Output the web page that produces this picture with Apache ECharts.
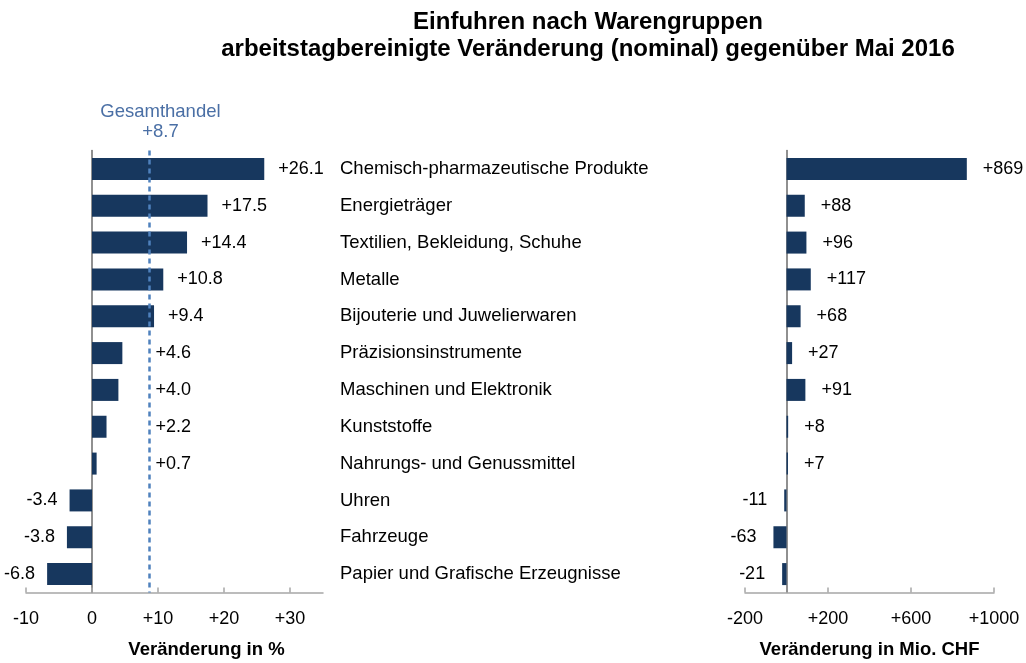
<!DOCTYPE html>
<html>
<head>
<meta charset="utf-8">
<script src="https://cdn.jsdelivr.net/npm/echarts@6/dist/echarts.min.js"></script>
<style>
  html, body { margin: 0; padding: 0; background: #ffffff; }
  #chart { width: 1026px; height: 663px; }
</style>
</head>
<body>
<div id="chart"></div>
<script>
// ---- data ----
const titleLines = ['Einfuhren nach Warengruppen', 'arbeitstagbereinigte Veränderung (nominal) gegenüber Mai 2016'];
const categories = [
  'Chemisch-pharmazeutische Produkte',
  'Energieträger',
  'Textilien, Bekleidung, Schuhe',
  'Metalle',
  'Bijouterie und Juwelierwaren',
  'Präzisionsinstrumente',
  'Maschinen und Elektronik',
  'Kunststoffe',
  'Nahrungs- und Genussmittel',
  'Uhren',
  'Fahrzeuge',
  'Papier und Grafische Erzeugnisse'
];
const pctValues = [26.1, 17.5, 14.4, 10.8, 9.4, 4.6, 4.0, 2.2, 0.7, -3.4, -3.8, -6.8];
const chfValues = [869, 88, 96, 117, 68, 27, 91, 8, 7, -11, -63, -21];
const totalPct = 8.7;
const totalLabel = 'Gesamthandel';
const pctTicks = [-10, 0, 10, 20, 30];
const chfTicks = [-200, 200, 600, 1000];
const pctAxisName = 'Veränderung in %';
const chfAxisName = 'Veränderung in Mio. CHF';

// ---- style / layout ----
const FONT = '"Liberation Sans", Arial, Helvetica, sans-serif';
const BAR = '#17375e';
const LEFT_GRID = { left: 26, top: 150.5, width: 297, height: 442 };
const RIGHT_GRID = { left: 745, top: 150.5, width: 249, height: 442 };
const PCT_MIN = -10, PCT_MAX = 35;
const CHF_MIN = -200, CHF_MAX = 1000;
const pctPx = LEFT_GRID.width / (PCT_MAX - PCT_MIN);
const totalLabelClearPx = (totalPct * pctPx) + 6; // keep small labels right of dashed line

function signed(v, d) {
  const s = v.toFixed(d);
  return v > 0 ? '+' + s : s;
}

const pctData = pctValues.map(v => {
  const pos = v >= 0 ? 'right' : 'left';
  const dist = v >= 0 ? Math.max(14, totalLabelClearPx - v * pctPx) : 12;
  return { value: v, label: { position: pos, distance: dist } };
});
const chfData = chfValues.map(v => ({
  value: v,
  label: { position: v >= 0 ? 'right' : 'left', distance: v >= 0 ? 16 : 17 }
}));

const chart = echarts.init(document.getElementById('chart'), null, { renderer: 'canvas' });

const valueAxisBase = {
  type: 'value',
  splitLine: { show: false },
  axisLine: { show: true, onZero: false, lineStyle: { color: '#a6a6a6', width: 1.5 } },
  axisTick: { show: true, inside: true, length: 5, lineStyle: { color: '#a6a6a6', width: 1.5 } },
  axisLabel: { color: '#000', fontFamily: FONT, fontSize: 18, margin: 18 },
  nameLocation: 'middle',
  nameGap: 48,
  nameTextStyle: { color: '#000', fontFamily: FONT, fontSize: 18.5, fontWeight: 'bold' }
};

chart.setOption({
  animation: false,
  backgroundColor: '#ffffff',
  title: {
    text: titleLines.join('\n'),
    left: 588,
    top: 9,
    padding: 0,
    textAlign: 'center',
    textStyle: { color: '#000', fontFamily: FONT, fontSize: 24, fontWeight: 'bold', lineHeight: 27 }
  },
  grid: [
    Object.assign({ containLabel: false, outerBoundsMode: 'none' }, LEFT_GRID),
    Object.assign({ containLabel: false, outerBoundsMode: 'none' }, RIGHT_GRID)
  ],
  xAxis: [
    Object.assign({}, valueAxisBase, {
      gridIndex: 0, min: PCT_MIN, max: PCT_MAX, interval: 10,
      name: pctAxisName,
      nameTextStyle: Object.assign({}, valueAxisBase.nameTextStyle, { padding: [0, 0, 0, 64] }),
      axisTick: Object.assign({}, valueAxisBase.axisTick, { customValues: pctTicks }),
      axisLabel: Object.assign({}, valueAxisBase.axisLabel, {
        customValues: pctTicks,
        formatter: v => (v > 0 ? '+' : '') + v
      })
    }),
    Object.assign({}, valueAxisBase, {
      gridIndex: 1, min: CHF_MIN, max: CHF_MAX, interval: 400,
      name: chfAxisName,
      axisTick: Object.assign({}, valueAxisBase.axisTick, { customValues: chfTicks }),
      axisLabel: Object.assign({}, valueAxisBase.axisLabel, {
        customValues: chfTicks,
        formatter: v => (v > 0 ? '+' : '') + v
      })
    })
  ],
  yAxis: [
    {
      type: 'category', gridIndex: 0, data: categories, inverse: true,
      axisLine: { show: true, onZero: true, lineStyle: { color: '#6b6b6b', width: 1.5 } },
      axisTick: { show: false }, axisLabel: { show: false }, splitLine: { show: false }
    },
    {
      type: 'category', gridIndex: 0, data: categories, inverse: true, position: 'right',
      axisLine: { show: false, onZero: false }, axisTick: { show: false }, splitLine: { show: false },
      axisLabel: { show: true, margin: 17, align: 'left', color: '#000', fontFamily: FONT, fontSize: 18.5 }
    },
    {
      type: 'category', gridIndex: 1, data: categories, inverse: true,
      axisLine: { show: true, onZero: true, lineStyle: { color: '#6b6b6b', width: 1.5 } },
      axisTick: { show: false }, axisLabel: { show: false }, splitLine: { show: false }
    }
  ],
  series: [
    {
      type: 'bar', xAxisIndex: 0, yAxisIndex: 0, data: pctData, barWidth: 22,
      itemStyle: { color: BAR },
      label: {
        show: true, color: '#000', fontFamily: FONT, fontSize: 18,
        formatter: p => signed(p.value, 1)
      },
      markLine: {
        silent: true, symbol: 'none', animation: false,
        lineStyle: { color: '#4f81bd', type: [5, 4], width: 2.5 },
        label: {
          show: true, position: 'start', distance: 9,
          formatter: totalLabel + '\n' + signed(totalPct, 1),
          color: '#4a6fa5', fontFamily: FONT, fontSize: 18.5, lineHeight: 20,
          padding: [0, 0, 0, 22]
        },
        data: [{ xAxis: totalPct }]
      }
    },
    {
      type: 'bar', xAxisIndex: 1, yAxisIndex: 2, data: chfData, barWidth: 22,
      itemStyle: { color: BAR },
      label: {
        show: true, color: '#000', fontFamily: FONT, fontSize: 18,
        formatter: p => signed(p.value, 0)
      }
    }
  ]
});
</script>
</body>
</html>
